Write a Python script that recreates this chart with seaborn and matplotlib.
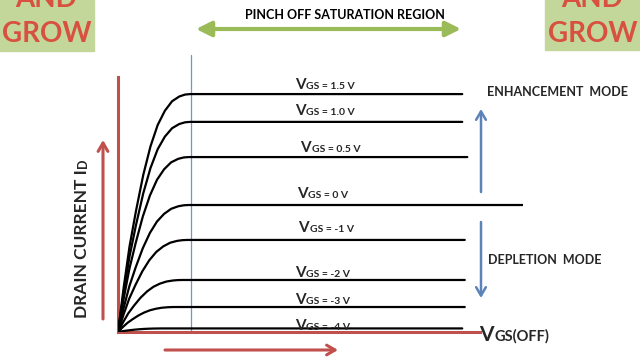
import numpy as np
import pandas as pd
import matplotlib
matplotlib.use('Agg')
import matplotlib.pyplot as plt
import seaborn as sns
from matplotlib.patches import Rectangle

# ---------------- data ----------------
vgs_labels = ['1.5 V', '1.0 V', '0.5 V', '0 V', '-1 V', '-2 V', '-3 V', '-4 V']
id_sat = [9.33, 8.24, 6.86, 4.98, 3.61, 2.04, 0.98, 0.14]      # saturation current (arb. units)
vds_knee = [2.85, 2.85, 2.8, 2.8, 2.75, 2.55, 2.3, 1.9]          # VDS where curve flattens
vds_end = [13.6, 13.6, 13.8, 16.0, 13.7, 13.7, 13.7, 13.6]       # where each line ends
knee_u = [0, 0.08, 0.16, 0.25, 0.35, 0.45, 0.55, 0.65, 0.75, 0.85, 0.93, 1.0]
knee_f = [0, 0.19, 0.36, 0.51, 0.66, 0.78, 0.87, 0.93, 0.97, 0.99, 0.998, 1.0]
pinch_off_vds = 2.88

rows = []
for lab, isat, k, e in zip(vgs_labels, id_sat, vds_knee, vds_end):
    for u, f in zip(knee_u, knee_f):
        rows.append(dict(vgs=lab, vds=u * k, id=f * isat))
    rows.append(dict(vgs=lab, vds=e, id=isat))
df = pd.DataFrame(rows)

sns.set_style('white')
plt.rcParams['font.family'] = ['Lato', 'DejaVu Sans']

W, H = 640, 360
fig = plt.figure(figsize=(6.4, 3.6), dpi=100, facecolor='white')

# main axes: origin at pixel (118, 332)
ax = fig.add_axes([118 / W, 28 / H, 405 / W, 255 / H])
ax.patch.set_alpha(0)
sns.lineplot(data=df, x='vds', y='id', units='vgs', estimator=None, sort=False,
             color='black', lw=1.6, legend=False, ax=ax, zorder=3)
ax.set_xlim(0, 16)
ax.set_ylim(0, 10)
ax.set_xticks([]); ax.set_yticks([])
ax.set_xlabel(''); ax.set_ylabel('')
red = '#c0504d'
for s in ['top', 'right']:
    ax.spines[s].set_visible(False)
for s in ['left', 'bottom']:
    ax.spines[s].set_color(red)
    ax.spines[s].set_linewidth(2.2)
    ax.spines[s].set_zorder(2.5)
ax.spines['bottom'].set_bounds(0, 14.3)
ax.axvline(pinch_off_vds, ymin=0, ymax=1.086, color='#6f95d2', lw=0.9,
           clip_on=False, zorder=1)

# overlay in pixel coordinates for annotations
ov = fig.add_axes([0, 0, 1, 1])
ov.set_xlim(0, W); ov.set_ylim(H, 0)
ov.axis('off')

# logo boxes
green_box = '#c4d79b'
logo_red = '#d8503f'
ov.add_patch(Rectangle((0, 0), 94, 51, color=green_box, zorder=0))
ov.add_patch(Rectangle((545, 0), 95, 50, color=green_box, zorder=0))
for cx in (46, 592):
    ov.text(cx, 7, 'AND', ha='center', va='baseline', fontsize=20,
            fontweight='bold', color=logo_red)
    ov.text(cx + 1, 42, 'GROW', ha='center', va='baseline', fontsize=20,
            fontweight='bold', color=logo_red)

# pinch-off region arrow
ov.text(345, 15, 'PINCH OFF SATURATION REGION', ha='center', va='center',
        fontsize=9, fontweight='bold', color='black')
ov.annotate('', xy=(461, 29), xytext=(196, 29),
            arrowprops=dict(arrowstyle='<|-|>,head_length=0.9,head_width=0.45',
                            color='#9bbb59', lw=3, mutation_scale=10,
                            shrinkA=0, shrinkB=0))

# red arrows
ov.annotate('', xy=(103, 140), xytext=(103, 319),
            arrowprops=dict(arrowstyle='->,head_length=0.6,head_width=0.35',
                            color=red, lw=2.2, mutation_scale=10,
                            shrinkA=0, shrinkB=0))
ov.annotate('', xy=(338, 350), xytext=(165, 350),
            arrowprops=dict(arrowstyle='->,head_length=0.6,head_width=0.35',
                            color=red, lw=2.2, mutation_scale=10,
                            shrinkA=0, shrinkB=0))

# blue mode arrows
blue = '#5b83b8'
ov.annotate('', xy=(481, 109), xytext=(481, 192),
            arrowprops=dict(arrowstyle='->,head_length=0.6,head_width=0.35',
                            color=blue, lw=1.8, mutation_scale=10,
                            shrinkA=0, shrinkB=0))
ov.annotate('', xy=(481, 298), xytext=(481, 222),
            arrowprops=dict(arrowstyle='->,head_length=0.6,head_width=0.35',
                            color=blue, lw=1.8, mutation_scale=10,
                            shrinkA=0, shrinkB=0))
ov.text(487, 91.5, 'ENHANCEMENT  MODE', ha='left', va='center', fontsize=9,
        fontweight='bold')
ov.text(488, 259.5, 'DEPLETION  MODE', ha='left', va='center', fontsize=9,
        fontweight='bold')

# VGS labels
label_x = [295, 295, 300, 297, 298, 295, 295, 295]
label_base = [89, 115, 152, 198, 232, 277, 304, 330]
for lab, lx, ly in zip(vgs_labels, label_x, label_base):
    ov.text(lx + 11, ly, 'V', ha='right', va='baseline', fontsize=11,
            fontweight='bold')
    ov.text(lx + 11.5, ly, 'GS = ' + lab, ha='left', va='baseline',
            fontsize=7.5, fontweight='bold')

# VGS(OFF)
ov.text(494, 341, 'V', ha='right', va='baseline', fontsize=15, fontweight='bold')
ov.text(494.5, 341, 'GS(OFF)', ha='left', va='baseline', fontsize=10.5,
        fontweight='bold')

# Drain current label (rotated)
t1 = ov.text(87, 318, 'DRAIN CURRENT I', rotation=90, rotation_mode='anchor',
             ha='left', va='baseline', fontsize=12.5, fontweight='bold')
fig.canvas.draw()
bb = t1.get_window_extent(renderer=fig.canvas.get_renderer())
ov.text(87, 318 - bb.height - 1, 'D', rotation=90, rotation_mode='anchor',
        ha='left', va='baseline', fontsize=9, fontweight='bold')

fig.savefig('out.png', dpi=100, facecolor='white')
